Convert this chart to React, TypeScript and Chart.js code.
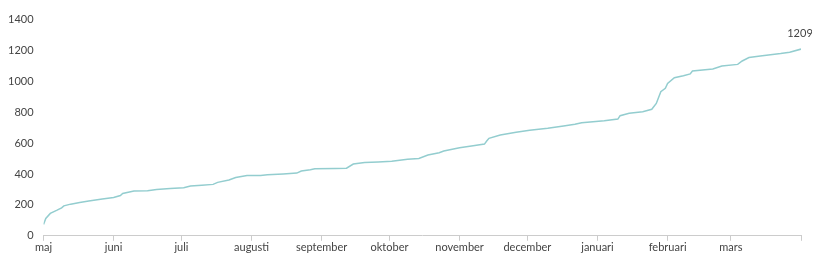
import React, { useEffect, useRef } from "react";
import { Chart, registerables } from "chart.js";

Chart.register(...registerables);

const monthLabels = ["maj", "juni", "juli", "augusti", "september", "oktober", "november", "december", "januari", "februari", "mars", ""];
const monthStartDays = [0, 31, 61, 92, 123, 153, 184, 214, 245, 276, 304, 335];

const days = [
  0, 1, 3, 6, 8, 9, 12, 16, 20, 26, 31, 34, 35, 40, 46, 50, 56, 62, 65, 70, 75, 77, 82, 85, 90, 96, 99, 106, 112, 114,
  118, 120, 129, 134, 137, 142, 148, 154, 161, 166, 170, 175, 177, 184, 190, 195, 196, 197, 202, 209, 215, 223, 230,
  235, 238, 243, 248, 254, 255, 259, 265, 269, 271, 273, 275, 276, 279, 283, 286, 287, 296, 300, 307, 309, 312, 317,
  326, 330, 335,
];
const values = [
  73, 112, 145, 166, 181, 194, 205, 216, 225, 238, 248, 261, 274, 290, 292, 300, 307, 311, 322, 328, 333, 346, 361, 378,
  391, 391, 395, 400, 406, 419, 428, 434, 436, 438, 465, 475, 478, 482, 495, 501, 523, 538, 549, 570, 583, 594, 614, 631,
  653, 670, 683, 696, 711, 722, 732, 739, 745, 756, 778, 793, 804, 819, 857, 933, 955, 987, 1024, 1037, 1048, 1067,
  1080, 1100, 1110, 1132, 1154, 1165, 1180, 1188, 1209,
];

const FONT = "Lato, sans-serif";
const TEXT = "#444444";
const LINE = "#93cdcf";

export default function App() {
  const ref = useRef<HTMLCanvasElement | null>(null);
  useEffect(() => {
    if (!ref.current) return;
    const endLabel = {
      id: "endLabel",
      afterDatasetsDraw(chart: any) {
        const meta = chart.getDatasetMeta(0);
        const pt = meta.data[meta.data.length - 1];
        if (!pt) return;
        const ctx = chart.ctx;
        ctx.save();
        ctx.font = `11px ${FONT}`;
        ctx.fillStyle = TEXT;
        ctx.textAlign = "center";
        ctx.textBaseline = "bottom";
        ctx.fillText(String(values[values.length - 1]), pt.x - 1, pt.y - 10);
        ctx.restore();
      },
    };
    const chart = new Chart(ref.current, {
      type: "line",
      data: {
        datasets: [
          {
            data: days.map((d, i) => ({ x: d, y: values[i] })),
            borderColor: LINE,
            borderWidth: 1.5,
            pointRadius: 0,
            pointHoverRadius: 0,
            pointBorderWidth: 0,
            pointHitRadius: 0,
            tension: 0,
            fill: false,
          },
        ],
      },
      options: {
        animation: false,
        responsive: true,
        maintainAspectRatio: false,
        layout: { autoPadding: false, padding: { top: 0, right: 11, left: -10, bottom: 0 } },
        plugins: { legend: { display: false }, tooltip: { enabled: false } },
        scales: {
          x: {
            type: "linear",
            min: 0,
            max: 335,
            afterBuildTicks: (scale: any) => {
              scale.ticks = monthStartDays.map((v) => ({ value: v }));
            },
            ticks: {
              autoSkip: false,
              maxRotation: 0,
              padding: 0,
              color: TEXT,
              font: { family: FONT, size: 11 },
              callback: (v: any) => {
                const i = monthStartDays.indexOf(Number(v));
                return i >= 0 ? monthLabels[i] : "";
              },
            },
            grid: { display: true, drawOnChartArea: false, drawTicks: true, tickLength: 5, color: "#cccccc" },
            border: { display: true, color: "#cccccc", width: 1 },
          },
          y: {
            min: 0,
            max: 1400,
            ticks: {
              stepSize: 200,
              padding: 10,
              color: TEXT,
              font: { family: FONT, size: 11 },
              callback: (v: any) => String(v),
            },
            grid: { display: false, drawTicks: false },
            border: { display: false },
          },
        },
      },
      plugins: [endLabel],
    });
    return () => chart.destroy();
  }, []);
  return (
    <div style={{ width: 804, height: 251, marginTop: -5, position: "relative" }}>
      <canvas ref={ref} />
    </div>
  );
}
